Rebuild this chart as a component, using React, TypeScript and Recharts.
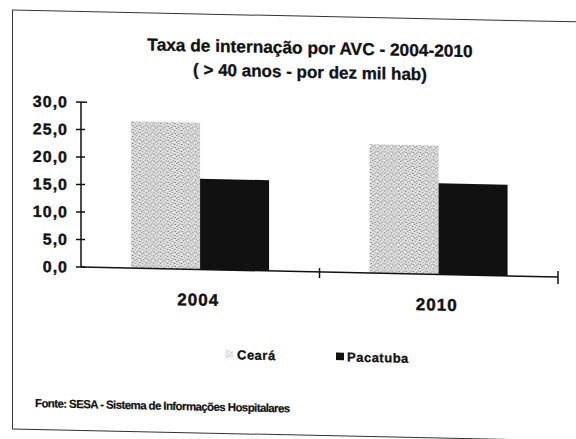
import React from "react";
import { BarChart, Bar, XAxis, YAxis, Legend } from "recharts";

// values (taxa por dez mil hab, > 40 anos)
const years = ["2004", "2010"];
const cearaValues = [26.7, 23.4];
const pacatubaValues = [16.5, 16.6];
const yTicks = [0, 5, 10, 15, 20, 25, 30];
const seriesNames = ["Ceará", "Pacatuba"];
const titleLines = ["Taxa de internação por AVC - 2004-2010", "( > 40 anos - por dez mil hab)"];
const sourceNote = "Fonte: SESA - Sistema de Informações Hospitalares";

const data = years.map((year, i) => ({
  year,
  ceara: cearaValues[i],
  pacatuba: pacatubaValues[i],
}));

const W = 576;
const H = 439;
const margin = { top: 102, right: 18, bottom: 142, left: 0 };
const Y_AXIS_W = 81;
const X_AXIS_H = 30;
const bandHalf = (W - margin.left - margin.right - Y_AXIS_W) / years.length / 2;

const font = '"Liberation Sans", Arial, Helvetica, sans-serif';
const ink = "#111";

const fmt = (v: number) => v.toFixed(1).replace(".", ",");

function YTick(props: any) {
  const { x, y, payload } = props;
  const isTop = payload.value === yTicks[yTicks.length - 1];
  return (
    <g>
      <line x1={x - 5} x2={x + (isTop ? 6 : 4)} y1={y} y2={y} stroke={ink} strokeWidth={1.5} />
      <text
        x={x - 13}
        y={y}
        dy="0.36em"
        textAnchor="end"
        fontFamily={font}
        fontWeight="bold"
        fontSize={16}
        letterSpacing={1}
        fill={ink}
        stroke={ink}
        strokeWidth={0.4}
      >
        {fmt(payload.value)}
      </text>
    </g>
  );
}

function XTick(props: any) {
  const { x, y, payload, index } = props;
  const bx = x + bandHalf;
  const isLast = index === years.length - 1;
  return (
    <g>
      <line x1={bx} x2={bx} y1={y - (isLast ? 6 : 4)} y2={y + (isLast ? 7 : 6)} stroke={ink} strokeWidth={1.5} />
      <text
        x={x - 2}
        y={y + 30}
        dy="0.36em"
        textAnchor="middle"
        fontFamily={font}
        fontWeight="bold"
        fontSize={17}
        letterSpacing={1}
        fill={ink}
        stroke={ink}
        strokeWidth={0.4}
      >
        {payload.value}
      </text>
    </g>
  );
}

const legendLefts = [225, 336];

function LegendContent(props: any) {
  const payload = props.payload || [];
  return (
    <div style={{ position: "relative", width: W, height: 16 }}>
      {payload.map((p: any, i: number) => (
        <div
          key={p.value}
          style={{
            position: "absolute",
            left: legendLefts[i],
            top: 0,
            height: 16,
            display: "flex",
            alignItems: "center",
            fontFamily: font,
            fontWeight: "bold",
            fontSize: 13,
            letterSpacing: 0.5,
            color: ink,
            WebkitTextStroke: "0.3px #111",
          }}
        >
          <svg width={8} height={8} style={{ marginRight: i === 0 ? 4 : 3 }}>
            <rect width={8} height={8} fill={p.color} opacity={i === 0 ? 0.5 : 1} />
          </svg>
          {p.value}
        </div>
      ))}
    </div>
  );
}

export default function App() {
  return (
    <div style={{ position: "absolute", left: 0, top: 0, width: W, height: H, overflow: "hidden", background: "#fff" }}>
      <svg width={0} height={0} style={{ position: "absolute" }}>
        <defs>
          <pattern id="stipple" width={7} height={7} patternUnits="userSpaceOnUse">
            <rect width={7} height={7} fill="#e2e2e2" />
            <rect x={1} y={0} width={1} height={1} fill="#5e5e5e" />
            <rect x={4} y={1} width={1} height={1} fill="#8a8a8a" />
            <rect x={6} y={2} width={1} height={1} fill="#6a6a6a" />
            <rect x={2} y={3} width={1} height={1} fill="#707070" />
            <rect x={5} y={4} width={1} height={1} fill="#989898" />
            <rect x={0} y={5} width={1} height={1} fill="#7a7a7a" />
            <rect x={3} y={6} width={1} height={1} fill="#656565" />
            <rect x={3} y={1} width={1} height={1} fill="#b4b4b4" />
            <rect x={6} y={5} width={1} height={1} fill="#adadad" />
            <rect x={0} y={2} width={1} height={1} fill="#b8b8b8" />
            <rect x={4} y={5} width={1} height={1} fill="#a0a0a0" />
          </pattern>
        </defs>
      </svg>
      <div
        style={{
          position: "absolute",
          left: 0,
          top: 0,
          width: W,
          height: H,
          transform: "skewY(1.2deg)",
          transformOrigin: `${Y_AXIS_W}px 0px`,
        }}
      >
        <div
          style={{
            position: "absolute",
            left: 12,
            top: 11,
            width: 640,
            height: 418,
            border: "1.5px solid #333",
          }}
        />
        {titleLines.map((line, i) => (
          <div
            key={line}
            style={{
              position: "absolute",
              left: 22,
              top: 33 + i * 25,
              width: W,
              textAlign: "center",
              fontFamily: font,
              fontWeight: "bold",
              fontSize: i === 0 ? 17.3 : 17,
              lineHeight: "20px",
              color: ink,
              WebkitTextStroke: "0.3px #111",
            }}
          >
            {line}
          </div>
        ))}
        <div
          style={{
            position: "absolute",
            left: 35,
            top: 397,
            fontFamily: font,
            fontWeight: "bold",
            fontSize: 11.5,
            letterSpacing: -0.6,
            lineHeight: "14px",
            color: ink,
            whiteSpace: "nowrap",
            WebkitTextStroke: "0.2px #111",
          }}
        >
          {sourceNote}
        </div>
        <div style={{ position: "absolute", left: 0, top: 0 }}>
          <BarChart width={W} height={H} data={data} margin={margin} barCategoryGap="21%" barGap={0}>
            <XAxis
              dataKey="year"
              height={X_AXIS_H}
              interval={0}
              axisLine={{ stroke: ink, strokeWidth: 1.5 }}
              tickLine={false}
              tickSize={0}
              tickMargin={0}
              tick={XTick}
            />
            <YAxis
              width={Y_AXIS_W}
              domain={[0, 30]}
              ticks={yTicks}
              interval={0}
              axisLine={{ stroke: ink, strokeWidth: 1.5 }}
              tickLine={false}
              tickSize={0}
              tickMargin={0}
              tick={YTick}
            />
            <Legend
              layout="horizontal"
              verticalAlign="middle"
              align="center"
              content={LegendContent}
              wrapperStyle={{ position: "absolute", left: 0, top: 343, width: W, height: 16 }}
            />
            <Bar dataKey="ceara" name={seriesNames[0]} fill="url(#stipple)" isAnimationActive={false} />
            <Bar dataKey="pacatuba" name={seriesNames[1]} fill={ink} isAnimationActive={false} />
          </BarChart>
        </div>
      </div>
    </div>
  );
}
